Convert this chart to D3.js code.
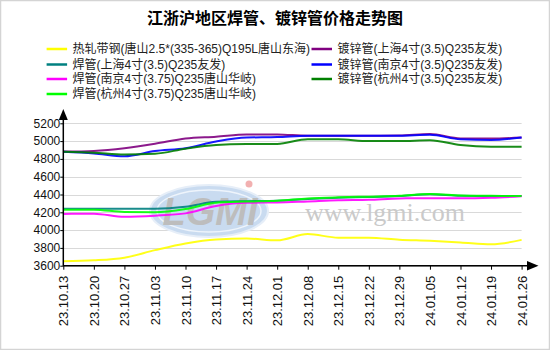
<!DOCTYPE html>
<html lang="zh">
<head>
	<meta charset="UTF-8">
	<title>江浙沪地区焊管、镀锌管价格走势图</title>
	<script src="https://cdn.jsdelivr.net/npm/d3@7"></script>
	<style>
		html,body{margin:0;padding:0;background:#fff;}
		svg{display:block;font-family:"Liberation Sans","Noto Sans CJK SC",sans-serif;}
	</style>
</head>
<body>
	<svg id="chart" width="550" height="350"></svg>
	<script>
		// weekly dates (tick labels)
		var dates = ["23.10.13","23.10.20","23.10.27","23.11.03","23.11.10","23.11.17","23.11.24","23.12.01",
			"23.12.08","23.12.15","23.12.22","23.12.29","24.01.05","24.01.12","24.01.19","24.01.26"];
		var yTicks = [3600,3800,4000,4200,4400,4600,4800,5000,5200];

		var names = ["热轧带钢(唐山2.5*(335-365)Q195L唐山东海)","焊管(上海4寸(3.5)Q235友发)",
			"焊管(南京4寸(3.75)Q235唐山华岐)","焊管(杭州4寸(3.75)Q235唐山华岐)",
			"镀锌管(上海4寸(3.5)Q235友发)","镀锌管(南京4寸(3.5)Q235友发)","镀锌管(杭州4寸(3.5)Q235友发)"];
		var colors = ["#ffff00","#008080","#ff00ff","#00ff00","#800080","#0000ff","#008000"];

		var hotRolled   = [3650,3660,3690,3775,3850,3895,3905,3885,3955,3915,3915,3892,3880,3862,3840,3890];
		var weldSh      = [4240,4240,4240,4240,4262,4318,4325,4330,4350,4364,4372,4383,4402,4385,4383,4382];
		var weldNj      = [4182,4185,4150,4162,4188,4272,4308,4310,4322,4335,4340,4356,4358,4358,4364,4380];
		var weldHz      = [4230,4230,4203,4200,4236,4308,4320,4330,4355,4368,4376,4385,4405,4390,4385,4382];
		var galvSh      = [4882,4890,4920,4970,5030,5050,5075,5075,5060,5060,5060,5062,5080,5030,5028,5040];
		var galvNj      = [4880,4862,4830,4888,4920,4995,5040,5045,5060,5060,5060,5060,5070,5020,5012,5040];
		var galvHz      = [4880,4870,4850,4858,4915,4956,4967,4968,5022,5020,5000,5000,5010,4956,4937,4937];
		var series = [hotRolled,weldSh,weldNj,weldHz,galvSh,galvNj,galvHz];

		var svg = d3.select("#chart");
		var x = d3.scalePoint().domain(dates).range([63.3,521.6]);
		var y = d3.scaleLinear().domain([3600,5200]).range([265.7,123.3]);

		// frame
		svg.append("rect").attr("x",0.5).attr("y",0.5).attr("width",549).attr("height",349)
			.attr("fill","#fff").attr("stroke","#d4d4d4").attr("stroke-width",1.5);

		// title
		svg.append("text").attr("x",275).attr("y",24).attr("text-anchor","middle")
			.attr("font-size",16).attr("font-weight","bold")
			.attr("font-family","\"Noto Sans CJK SC\",sans-serif")
			.text("江浙沪地区焊管、镀锌管价格走势图");

		// legend: left column 4 entries, right column 3
		var legRows = [49,64.5,79,94];
		names.forEach(function(n,i){
			var col = i < 4 ? 0 : 1, row = i < 4 ? i : i-4;
			var lx = col ? 311.5 : 46.6, ly = legRows[row];
			var g = svg.append("g");
			g.append("line").attr("x1",lx).attr("x2",lx+20.5).attr("y1",ly).attr("y2",ly)
				.attr("stroke",colors[i]).attr("stroke-width",2.5);
			g.append("text").attr("x",lx+26).attr("y",ly+4.3).attr("font-size",12).attr("fill","#222").text(n);
		});

		// gridlines
		svg.append("g").selectAll("line").data(yTicks).enter().append("line")
			.attr("x1",63.3).attr("x2",521.6).attr("y1",function(d){return Math.round(y(d))+0.5;})
			.attr("y2",function(d){return Math.round(y(d))+0.5;})
			.attr("stroke","#d9d9d9").attr("stroke-width",1);

		// watermark
		var wm = svg.append("g");
		wm.append("ellipse").attr("cx",209).attr("cy",211).attr("rx",59).attr("ry",26)
			.attr("fill","#c9dbf0").attr("stroke","#e6eef8").attr("stroke-width",2);
		wm.append("ellipse").attr("cx",209).attr("cy",211).attr("rx",52).attr("ry",21)
			.attr("fill","none").attr("stroke","#eef4fb").attr("stroke-width",1.5);
		wm.append("text").attr("x",210).attr("y",225).attr("text-anchor","middle")
			.attr("font-size",38).attr("font-weight","bold").attr("font-style","italic")
			.attr("fill","#bdbdbd").attr("font-family","\"Liberation Sans\",sans-serif").text("LGMI");
		wm.append("circle").attr("cx",249).attr("cy",184).attr("r",3.5).attr("fill","#f2b0b0");
		svg.append("text").attr("x",305).attr("y",221).attr("font-size",26)
			.attr("font-family","\"Liberation Serif\",serif").attr("fill","#cacaca").text("www.lgmi.com");

		// lines
		var line = d3.line().x(function(d,i){return x(dates[i]);}).y(function(d){return y(d);})
			.curve(d3.curveMonotoneX);
		svg.append("g").selectAll("path").data(series).enter().append("path")
			.attr("d",line).attr("fill","none")
			.attr("stroke",function(d,i){return colors[i];})
			.attr("stroke-width",2).attr("stroke-opacity",0.9);

		// y axis
		var yAxis = svg.append("g").attr("transform","translate(63.3,0)")
			.call(d3.axisLeft(y).tickValues(yTicks).tickSize(3).tickFormat(d3.format("d")));
		yAxis.select(".domain").remove();
		yAxis.selectAll("text").attr("font-size",12).attr("fill","#111")
			.attr("font-family","\"Liberation Sans\",sans-serif").attr("x",-3);
		svg.append("line").attr("x1",63.3).attr("x2",63.3).attr("y1",266).attr("y2",118)
			.attr("stroke","#000").attr("stroke-width",1.5);
		svg.append("path").attr("d","M58.8,120L63.3,109L67.8,120Z").attr("fill","#000");

		// x axis
		var xAxis = svg.append("g").attr("transform","translate(0,265.7)")
			.call(d3.axisBottom(x).tickSize(4));
		xAxis.select(".domain").remove();
		xAxis.selectAll("text").attr("font-size",13).attr("fill","#111")
			.attr("font-family","\"Liberation Sans\",sans-serif")
			.attr("transform","rotate(-90)").attr("text-anchor","end")
			.attr("x",-10).attr("y",0).attr("dy","0.35em");
		svg.append("line").attr("x1",63).attr("x2",528).attr("y1",265.7).attr("y2",265.7)
			.attr("stroke","#000").attr("stroke-width",1.5);
		svg.append("path").attr("d","M527,261L538.5,265.7L527,270.4Z").attr("fill","#000");
	</script>
</body>
</html>
